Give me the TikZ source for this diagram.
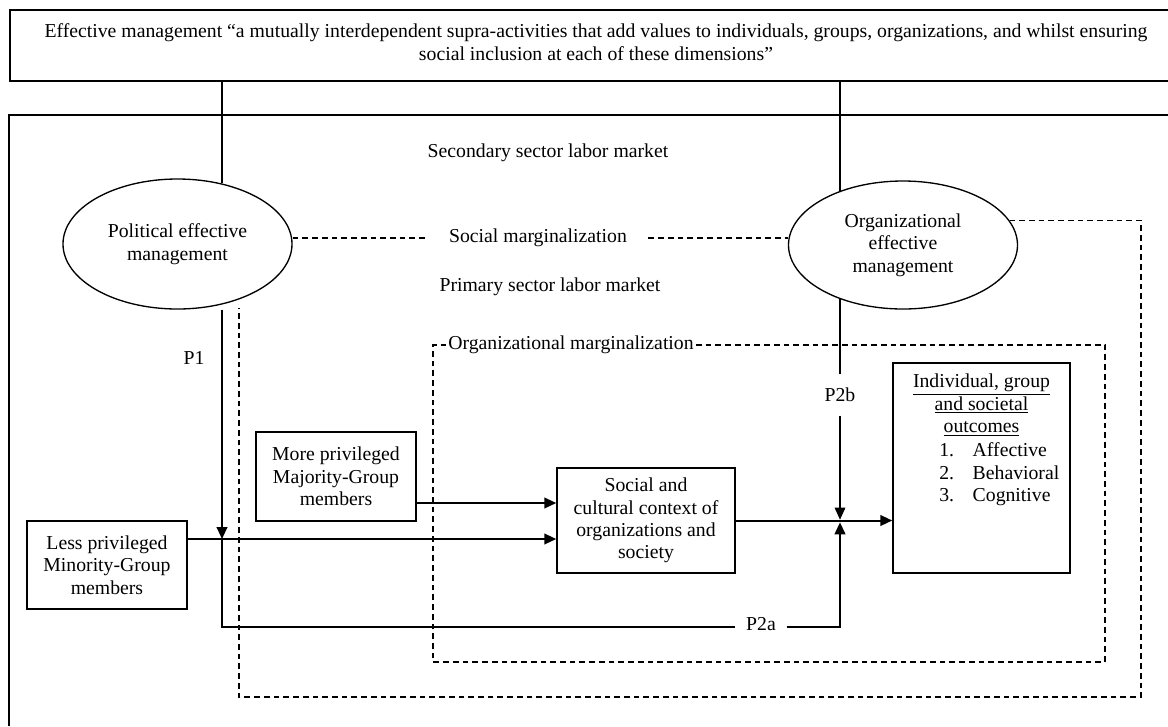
\documentclass[tikz,border=0pt]{standalone}
\usepackage{fontspec}
\setmainfont{Liberation Serif}
\usetikzlibrary{shapes.geometric,arrows.meta}
\tikzset{x=0.75pt, y=-0.75pt,
    every node/.style={font=\fontsize{14.8pt}{16.8pt}\selectfont, align=center},
    box/.style={draw, line width=1.1pt, inner sep=0pt},
    oval/.style={draw, ellipse, line width=1pt, inner sep=0pt},
    plain/.style={line width=0.8pt},
    conn/.style={line width=1.5pt},
    arr/.style={conn, -{Triangle[length=9pt, width=8pt]}},
    mrg/.style={line width=1pt, dash pattern=on 4.3pt off 3pt},
    }

\begin{document}
\begin{tikzpicture}
\useasboundingbox (0,0) rectangle (1168,726);
% frames
\node (eff) at (596,42) {Effective management “a mutually interdependent supra-activities that add values to individuals, groups, organizations, and whilst ensuring\\social inclusion at each of these dimensions”};
\draw[plain] (1168,10) -- (10,10) -- (10,81) -- (1168,81);
\draw[plain] (1168,115) -- (9,115) -- (9,726);
\coordinate (topb) at (0,81);
% ovals
\node[oval, minimum width=171.75pt, minimum height=97.5pt] (pem) at (177.5,244) {Political effective\\management};
\node[oval, minimum width=171.75pt, minimum height=96pt] (oem) at (903,245) {Organizational\\effective\\management};
% labels
\node (sec) at (548,153) {Secondary sector labor market};
\node (pri) at (550,287) {Primary sector labor market};
\node[inner xsep=16pt] (socm) at (538,238) {Social marginalization};
\node[inner xsep=1.5pt] (orgm) at (571,345) {Organizational marginalization};
\node (p1) at (194,358) {P1};
\node[inner ysep=10pt, inner xsep=0pt] (p2b) at (840,395) {P2b};
\node[inner xsep=8pt] (p2a) at (761,624) {P2a};
% boxes
\node[box, minimum width=120pt, minimum height=66pt] (less) at (107,565) {Less privileged\\Minority-Group\\members};
\node[box, minimum width=120pt, minimum height=66.75pt] (more) at (336,476.5) {More privileged\\Majority-Group\\members};
\node[box, minimum width=133.5pt, minimum height=78.75pt] (soc) at (646,520.5) {Social and\\cultural context of\\organizations and\\society};
\node[box, minimum width=132.75pt, minimum height=157.5pt] (outc) at (981.5,468) {};
\node[anchor=north, inner sep=0pt] (outt) at (981.5,374) {\underline{Individual, group}\\\underline{and societal}\\\underline{outcomes}};
\node[anchor=north west, inner sep=0pt, align=left] (outl) at (939,441) {\begin{tabular}{@{}l@{\hspace{14pt}}l@{}}
1. & Affective\\
2. & Behavioral\\
3. & Cognitive
\end{tabular}};
% points
\coordinate (j1) at (222,539);
\coordinate (j2) at (840,521);
\coordinate (ya) at (0,503);
\coordinate (bl) at (222,627);
\coordinate (br) at (840,627);
\coordinate (dr) at (1141,697);
\coordinate (dl) at (239,308);
\coordinate (ia) at (433,345);
\coordinate (ib) at (1105,662);
% marginalization
\draw[mrg] (pem.east |- socm) -- (socm.west);
\draw[mrg] (socm.east) -- (oem.west |- socm);
\draw[mrg] (orgm.east) -| (ib) -| (ia) -- (orgm.west);
\draw[mrg] (oem.13) -| (dr) -| (dl);
% links
\draw[plain] (pem.54 -| j1) -- (j1 |- topb);
\draw[plain] (oem.140 -| p2b) -- (p2b |- topb);
\draw[arr] (pem.south -| j1) -- (j1);
\draw[arr] (more.east |- ya) -- (soc.west |- ya);
\draw[arr] (less.east |- j1) -- (soc.west |- j1);
\draw[arr] (soc.east) -- (outc.west |- soc.east);
\draw[conn] (j1) -- (bl) -- (p2a.west |- bl);
\draw[arr, shorten >=1pt] (p2a.east |- bl) -- (br) -- (j2);
\draw[plain] (oem.-140 -| p2b) -- (p2b.north);
\draw[plain, -{Triangle[length=9pt, width=8pt]}, shorten >=1pt] (p2b.south) -- (j2);
\end{tikzpicture}
\end{document}
